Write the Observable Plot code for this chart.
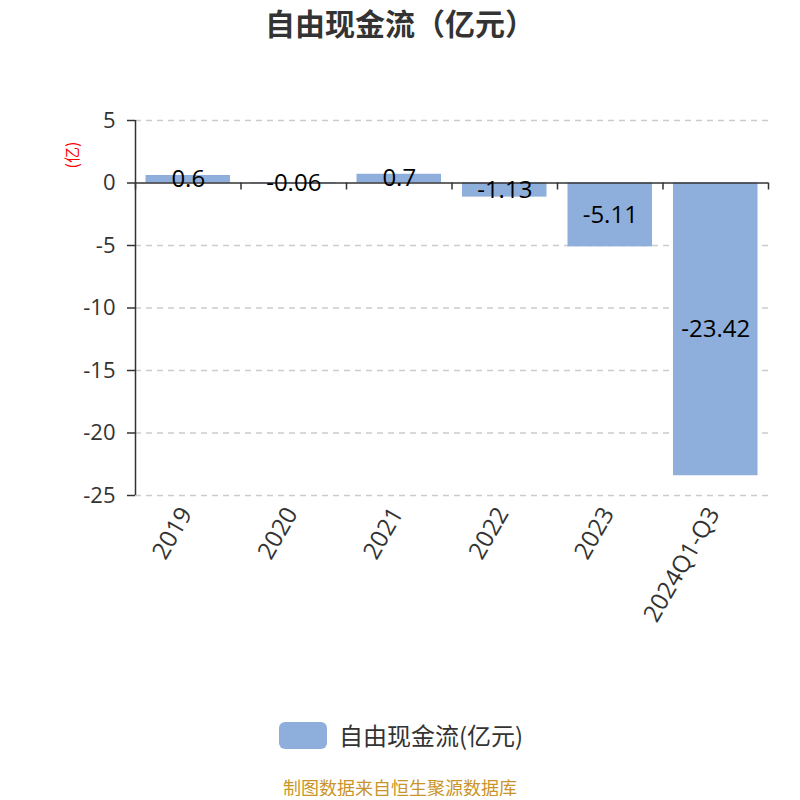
<!DOCTYPE html>
<html><head><meta charset="utf-8">
<script src="https://cdn.jsdelivr.net/npm/d3@7"></script>
<script src="https://cdn.jsdelivr.net/npm/@observablehq/plot@0.6"></script>
<style>
body{margin:0;background:#fff;font-family:"Open Sans","Noto Sans CJK SC",sans-serif;}
#wrap{position:relative;width:800px;height:796px;}
#title{position:absolute;top:2px;left:0;width:800px;text-align:center;font-size:30px;line-height:40px;font-weight:bold;color:#333;font-family:"Noto Sans CJK SC",sans-serif;}
#chart{position:absolute;top:0;left:0;}
#legend{position:absolute;top:721px;left:279px;display:flex;align-items:center;font-size:24px;line-height:28px;color:#333;font-family:"Noto Sans CJK SC",sans-serif;}
#legend .sw{width:48px;height:27px;border-radius:6px;background:#8eaedb;margin-right:12px;}
#caption{position:absolute;top:777px;left:0;width:800px;text-align:center;font-size:18px;line-height:20px;color:#c9952b;font-family:"Noto Sans CJK SC",sans-serif;}
</style></head>
<body>
<div id="wrap">
<div id="title">自由现金流（亿元）</div>
<div id="chart"></div>
<div id="legend"><div class="sw"></div><span>自由现金流(亿元)</span></div>
<div id="caption">制图数据来自恒生聚源数据库</div>
</div>
<script>
const categories = ["2019","2020","2021","2022","2023","2024Q1-Q3"];
const values = [0.6,-0.06,0.7,-1.13,-5.11,-23.42];
const yTicks = [5,0,-5,-10,-15,-20,-25];
const boundaries = [0,1,2,3,4,5,6];
const data = categories.map((c,i)=>({c, i, v: values[i]}));

const chart = Plot.plot({
  width: 800, height: 660,
  marginLeft: 135, marginRight: 32, marginTop: 120, marginBottom: 165,
  x: {type: "linear", domain: [0, 6], axis: null},
  y: {domain: [-25, 5], axis: null},
  style: {fontFamily: "'Open Sans','Noto Sans CJK SC',sans-serif", fontSize: "20px", background: "transparent"},
  marks: [
    Plot.ruleY(yTicks.filter(t => t !== 0), {y: d => d, stroke: "#ccc", strokeWidth: 1.5, strokeDasharray: "6,5"}),
    Plot.rect(data, {x1: "i", x2: d => d.i + 1, y1: 0, y2: "v", fill: "#8eaedb", insetLeft: 10.5, insetRight: 10.5}),
    Plot.ruleY([0], {stroke: "#333", strokeWidth: 1.5}),
    Plot.ruleX(boundaries, {x: d => d, y1: 0, y2: 0, insetBottom: -7, stroke: "#333", strokeWidth: 1.5}),
    Plot.ruleX([0], {y1: -25, y2: 5, stroke: "#333", strokeWidth: 1.5}),
    Plot.axisY({ticks: yTicks, tickSize: 8, tickPadding: 12, tickFormat: d => String(d), label: null, fontSize: 22, color: "#333", stroke: "#333", strokeWidth: 1.5}),
    Plot.text(data, {x: d => d.i + 0.5, y: d => d.v / 2, text: d => String(d.v), fill: "#000", fontSize: 24}),
    Plot.text(data, {x: d => d.i + 0.5, y: -25, text: "c", rotate: -60, textAnchor: "end", dx: -2, dy: 14, fill: "#333", fontSize: 24})
  ]
});
document.getElementById("chart").appendChild(chart);
const svg = d3.select(chart);
svg.append("text")
  .attr("transform", "translate(74,155) rotate(-90)")
  .attr("text-anchor", "middle").attr("dominant-baseline", "middle")
  .attr("fill", "red").attr("font-size", 16)
  .attr("font-family", "'Noto Sans CJK SC',sans-serif")
  .text("(亿)");
</script>
</body></html>
